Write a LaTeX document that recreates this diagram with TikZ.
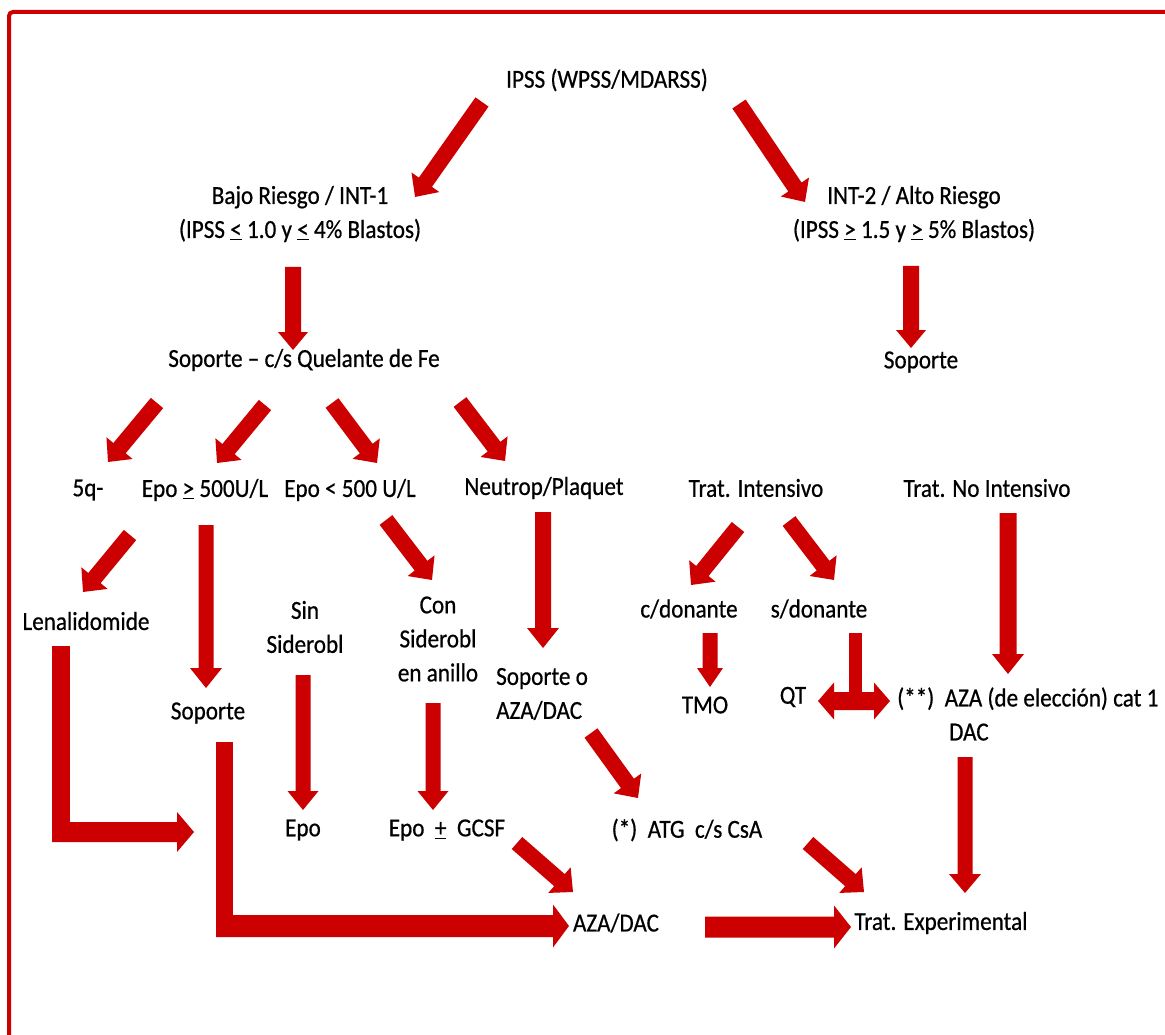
\documentclass[tikz,border=0pt]{standalone}
\usepackage{fontspec}
\setmainfont{Carlito}[FakeStretch=0.89,FakeBold=0.6]
\definecolor{arr}{RGB}{204,0,0}
% block arrow: #1 start, #2 tip, #3 shaft width, #4 head width, #5 head length (pt numbers)
\newcommand\blkarr[5]{%
  \path (#1); \pgfgetlastxy{\bkAx}{\bkAy}%
  \path (#2); \pgfgetlastxy{\bkBx}{\bkBy}%
  \pgfmathsetmacro\bkAng{atan2(\bkBy-\bkAy,\bkBx-\bkAx)}%
  \pgfmathsetmacro\bkLen{veclen(\bkBx-\bkAx,\bkBy-\bkAy)}%
  \pgfmathsetmacro\bkBase{\bkLen-#5}%
  \fill[arr, shift={(\bkAx,\bkAy)}, rotate=\bkAng]
    (0pt,{-#3pt/2}) -- (\bkBase pt,{-#3pt/2}) -- (\bkBase pt,{-#4pt/2}) -- (\bkLen pt,0pt)
    -- (\bkBase pt,{#4pt/2}) -- (\bkBase pt,{#3pt/2}) -- (0pt,{#3pt/2}) -- cycle;%
}
\begin{document}
\begin{tikzpicture}[x=1pt,y=-1pt,
  txt/.style={inner sep=0pt, align=center, font=\fontsize{26}{34}\selectfont, text=black}]
\useasboundingbox (0,0) rectangle (1165,1035);
\fill[white] (0,0) rectangle (1165,1035);
% frame
\draw[arr, line width=4pt, rounded corners=4pt] (9,1045) -- (9,12) -- (1175,12);

% text nodes
\node[txt] (ipss) at (607,80) {IPSS (WPSS/MDARSS)};
\node[txt] (bajo) at (300,214) {Bajo Riesgo / INT-1\\(IPSS \underline{<} 1.0 y \underline{<} 4\% Blastos)};
\node[txt] (alto) at (914,214) {INT-2 / Alto Riesgo\\(IPSS \underline{>} 1.5 y \underline{>} 5\% Blastos)};
\node[txt] (sopq) at (304,360) {Soporte – c/s Quelante de Fe};
\node[txt] (sopr) at (921,362) {Soporte};
\node[txt] (q5) at (88,490) {5q-};
\node[txt] (epoge) at (205,490) {Epo \underline{>} 500U/L};
\node[txt] (epolt) at (350,490) {Epo < 500 U/L};
\node[txt] (neut) at (544,488) {Neutrop/Plaquet};
\node[txt] (tint) at (756,488) {Trat. Intensivo};
\node[txt] (tnint) at (987,488) {Trat. No Intensivo};
\node[txt] (lena) at (86,621) {Lenalidomide};
\node[txt] (sin) at (305,627) {Sin\\Siderobl};
\node[txt] (con) at (438,639) {Con\\Siderobl\\en anillo};
\node[txt] (cdon) at (689,609) {c/donante};
\node[txt] (sdon) at (819,609) {s/donante};
\node[txt] (tmo) at (705,705) {TMO};
\node[txt] (sop2) at (208,713) {Soporte};
\node[txt, anchor=west, align=left] (sopaza) at (496,694) {Soporte o\\AZA/DAC};
\node[txt] (qt) at (793,697) {QT};
\node[txt, anchor=west, align=left] (aza1) at (897,714) {(**)\ \ AZA (de elección) cat 1\\\hspace*{52pt}DAC};
\node[txt] (epo) at (303,830) {Epo};
\node[txt] (epog) at (447,830) {Epo\ \ \underline{+}\ \ GCSF};
\node[txt] (atg) at (687,830) {(*)\ \ ATG\ \ c/s CsA};
\node[txt] (aza2) at (616,923) {AZA/DAC};
\node[txt] (texp) at (941,923) {Trat. Experimental};

% connector end points
\coordinate (a1s) at (482,102); \coordinate (a1e) at (415,197);
\coordinate (a2s) at (739,104); \coordinate (a2e) at (805,202);
\coordinate (a3s) at (293,267); \coordinate (a3e) at (293,350);
\coordinate (a4s) at (911,266); \coordinate (a4e) at (911,348);
\coordinate (a5s) at (157,403); \coordinate (a5e) at (108,462);
\coordinate (a6s) at (265,405); \coordinate (a6e) at (217,463);
\coordinate (a7s) at (332,403); \coordinate (a7e) at (377,463);
\coordinate (a8s) at (460,402); \coordinate (a8e) at (505,461);
\coordinate (a9s) at (130,535); \coordinate (a9e) at (83,592);
\coordinate (a10s) at (206,525); \coordinate (a10e) at (206,688);
\coordinate (a11s) at (386,520); \coordinate (a11e) at (432,580);
\coordinate (a12s) at (543,512); \coordinate (a12e) at (543,648);
\coordinate (a13s) at (738,527); \coordinate (a13e) at (691,585);
\coordinate (a14s) at (789,521); \coordinate (a14e) at (834,580);
\coordinate (a15s) at (1008,513); \coordinate (a15e) at (1008,674);
\coordinate (a16s) at (710,633); \coordinate (a16e) at (710,687);
\coordinate (a17s) at (303,675); \coordinate (a17e) at (303,810);
\coordinate (a18s) at (433,703); \coordinate (a18e) at (433,810);
\coordinate (a19s) at (591,733); \coordinate (a19e) at (638,798);
\coordinate (a20s) at (517,843); \coordinate (a20e) at (573,892);
\coordinate (a21s) at (808,843); \coordinate (a21e) at (864,892);
\coordinate (a22s) at (705,927); \coordinate (a22e) at (851,927);
\coordinate (a23s) at (965,757); \coordinate (a23e) at (965,893);
% elbows
\coordinate (l1) at (52,646); \coordinate (l2) at (70,842);
\coordinate (l3) at (52,832); \coordinate (l4) at (194,832);
\coordinate (s1) at (216,742); \coordinate (s2) at (233,937);
\coordinate (s3) at (216,926); \coordinate (s4) at (569,926);
% double arrow QT
\coordinate (q1) at (849,633); \coordinate (q2) at (862,701);
\coordinate (qc) at (855,701); \coordinate (qL) at (818,701); \coordinate (qR) at (890,701);

\blkarr{a1s}{a1e}{16}{34}{18}
\blkarr{a2s}{a2e}{16}{34}{18}
\blkarr{a3s}{a3e}{16}{30}{18}
\blkarr{a4s}{a4e}{16}{30}{18}
\blkarr{a5s}{a5e}{16}{34}{18}
\blkarr{a6s}{a6e}{16}{34}{18}
\blkarr{a7s}{a7e}{16}{34}{18}
\blkarr{a8s}{a8e}{16}{34}{18}
\blkarr{a9s}{a9e}{16}{34}{18}
\blkarr{a10s}{a10e}{15}{32}{20}
\blkarr{a11s}{a11e}{16}{34}{18}
\blkarr{a12s}{a12e}{16}{32}{20}
\blkarr{a13s}{a13e}{16}{34}{18}
\blkarr{a14s}{a14e}{16}{34}{18}
\blkarr{a15s}{a15e}{17}{32}{20}
\blkarr{a16s}{a16e}{15}{26}{19}
\blkarr{a17s}{a17e}{15}{31}{19}
\blkarr{a18s}{a18e}{15}{31}{19}
\blkarr{a19s}{a19e}{16}{34}{18}
\blkarr{a20s}{a20e}{16}{34}{18}
\blkarr{a21s}{a21e}{16}{34}{18}
\blkarr{a22s}{a22e}{21}{43}{17}
\blkarr{a23s}{a23e}{15}{32}{19}

\fill[arr] (l1) rectangle (l2);
\blkarr{l3}{l4}{20}{40}{17}
\fill[arr] (s1) rectangle (s2);
\blkarr{s3}{s4}{22}{43}{16}
\fill[arr] (q1) rectangle (q2);
\blkarr{qc}{qL}{18}{37}{16}
\blkarr{qc}{qR}{18}{37}{16}
\end{tikzpicture}
\end{document}
